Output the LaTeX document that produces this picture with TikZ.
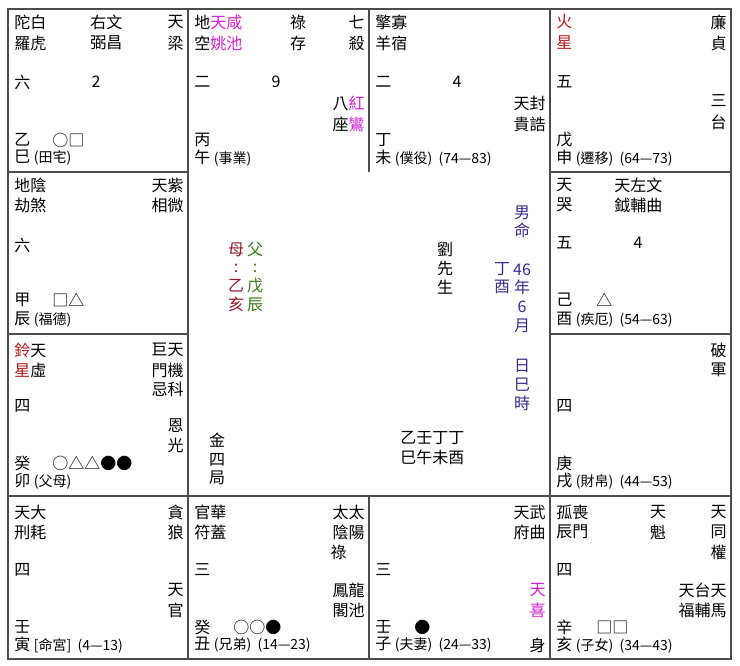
\documentclass[tikz,border=0pt]{standalone}
\usepackage{fontspec}
\setmainfont{Noto Sans CJK TC}
\definecolor{mag}{HTML}{D020D0}
\definecolor{dred}{HTML}{B01818}
\definecolor{mred}{HTML}{8B1A2A}
\definecolor{dgrn}{HTML}{3A7A1A}
\definecolor{navy}{HTML}{3A2A8A}
\begin{document}
\begin{tikzpicture}[x=0.75pt,y=-0.75pt,
 t/.style={inner sep=0pt,font=\fontsize{12}{14}\selectfont},
 L/.style={t,anchor=west},R/.style={t,anchor=east},C/.style={t,anchor=center},
 grid/.style={draw=black!70,line width=0.9pt}]
\useasboundingbox (0,0) rectangle (740,665);
\draw[grid] (8,9) rectangle (731,659);
\draw[grid] (188,9) -- (188,659);
\draw[grid] (550,9) -- (550,659);
\draw[grid] (369,9) -- (369,172);
\draw[grid] (369,496) -- (369,659);
\draw[grid] (8,172) -- (188,172);
\draw[grid] (550,172) -- (731,172);
\draw[grid] (8,334) -- (188,334);
\draw[grid] (550,334) -- (731,334);
\draw[grid] (8,496) -- (731,496);
% cell 巳
\node[L] (a1) at (14,22) {陀白};
\node[L] (a2) at (14,43) {羅虎};
\node[L] (a3) at (90,22) {右文};
\node[L] (a4) at (90,43) {弼昌};
\node[R] (a5) at (184,22) {天};
\node[R] (a6) at (184,43) {梁};
\node[L] (a7) at (14,82) {六};
\node[C] (a8) at (96,82) {2};
\node[L] (a9) at (14,140) {乙};
\node[L] (a10) at (52,140) {○□};
\node[L] (a11) at (14,158) {巳 {\fontsize{10.5}{12}\selectfont(田宅)}};
% cell 午
\node[L] (b1) at (194,22) {地\textcolor{mag}{天咸}};
\node[L] (b2) at (194,43) {空\textcolor{mag}{姚池}};
\node[C] (b3) at (298,22) {祿};
\node[C] (b4) at (298,43) {存};
\node[R] (b5) at (365,22) {七};
\node[R] (b6) at (365,43) {殺};
\node[L] (b7) at (194,82) {二};
\node[C] (b8) at (276,82) {9};
\node[R] (b9) at (365,103) {八\textcolor{mag}{紅}};
\node[R] (b10) at (365,124) {座\textcolor{mag}{鸞}};
\node[L] (b11) at (194,140) {丙};
\node[L] (b12) at (194,158) {午 {\fontsize{10.5}{12}\selectfont(事業)}};
% cell 未
\node[L] (c1) at (375,22) {擎寡};
\node[L] (c2) at (375,43) {羊宿};
\node[L] (c3) at (375,82) {二};
\node[C] (c4) at (457,82) {4};
\node[R] (c5) at (546,103) {天封};
\node[R] (c6) at (546,124) {貴誥};
\node[L] (c7) at (375,140) {丁};
\node[L] (c8) at (375,158) {未 {\fontsize{10.5}{12}\selectfont(僕役)\ \ (74—83)}};
% cell 申
\node[L] (d1) at (556,22) {\textcolor{dred}{火}};
\node[L] (d2) at (556,43) {\textcolor{dred}{星}};
\node[R] (d3) at (727,22) {廉};
\node[R] (d4) at (727,43) {貞};
\node[L] (d5) at (556,82) {五};
\node[R] (d6) at (727,101) {三};
\node[R] (d7) at (727,122) {台};
\node[L] (d8) at (556,140) {戊};
\node[L] (d9) at (556,158) {申 {\fontsize{10.5}{12}\selectfont(遷移)\ \ (64—73)}};
% cell 辰
\node[L] (e1) at (14,185) {地陰};
\node[L] (e2) at (14,205) {劫煞};
\node[R] (e3) at (184,185) {天紫};
\node[R] (e4) at (184,205) {相微};
\node[L] (e5) at (14,245) {六};
\node[L] (e6) at (14,300) {甲};
\node[L] (e7) at (52,300) {□△};
\node[L] (e8) at (14,320) {辰 {\fontsize{10.5}{12}\selectfont(福德)}};
% cell 酉
\node[L] (f1) at (556,185) {天};
\node[L] (f2) at (556,205) {哭};
\node[L] (f3) at (614,185) {天左文};
\node[L] (f4) at (614,205) {鉞輔曲};
\node[L] (f5) at (556,243) {五};
\node[C] (f6) at (638,243) {4};
\node[L] (f7) at (556,300) {己};
\node[L] (f8) at (596,300) {△};
\node[L] (f9) at (556,320) {酉 {\fontsize{10.5}{12}\selectfont(疾厄)\ \ (54—63)}};
% cell 卯
\node[L] (g1) at (14,350) {\textcolor{dred}{鈴}天};
\node[L] (g2) at (14,370) {\textcolor{dred}{星}虛};
\node[R] (g3) at (184,350) {巨天};
\node[R] (g4) at (184,370) {門機};
\node[R] (g5) at (184,389) {忌科};
\node[L] (g6) at (14,406) {四};
\node[R] (g7) at (184,426) {恩};
\node[R] (g8) at (184,445) {光};
\node[L] (g9) at (14,463) {癸};
\node[L] (g10) at (52,463) {○△△●●};
\node[L] (g11) at (14,481) {卯 {\fontsize{10.5}{12}\selectfont(父母)}};
% cell 戌
\node[R] (h1) at (727,350) {破};
\node[R] (h2) at (727,370) {軍};
\node[L] (h3) at (556,406) {四};
\node[L] (h4) at (556,463) {庚};
\node[L] (h5) at (556,481) {戌 {\fontsize{10.5}{12}\selectfont(財帛)\ \ (44—53)}};
% cell 寅
\node[L] (i1) at (14,512) {天大};
\node[L] (i2) at (14,532) {刑耗};
\node[R] (i3) at (184,512) {貪};
\node[R] (i4) at (184,532) {狼};
\node[L] (i5) at (14,570) {四};
\node[R] (i6) at (184,590) {天};
\node[R] (i7) at (184,610) {官};
\node[L] (i8) at (14,627) {壬};
\node[L] (i9) at (14,645) {寅 {\fontsize{10.5}{12}\selectfont[命宮]\ \ (4—13)}};
% cell 丑
\node[L] (j1) at (194,512) {官華};
\node[L] (j2) at (194,532) {符蓋};
\node[R] (j3) at (365,512) {太太};
\node[R] (j4) at (365,532) {陰陽};
\node[R] (j5) at (347,552) {祿};
\node[L] (j6) at (194,570) {三};
\node[R] (j7) at (365,590) {鳳龍};
\node[R] (j8) at (365,610) {閣池};
\node[L] (j9) at (194,627) {癸};
\node[L] (j10) at (233,627) {○○●};
\node[L] (j11) at (194,645) {丑 {\fontsize{10.5}{12}\selectfont(兄弟)\ \ (14—23)}};
% cell 子
\node[R] (k1) at (546,512) {天武};
\node[R] (k2) at (546,532) {府曲};
\node[L] (k3) at (375,570) {三};
\node[R] (k4) at (546,590) {\textcolor{mag}{天}};
\node[R] (k5) at (546,610) {\textcolor{mag}{喜}};
\node[L] (k6) at (375,627) {壬};
\node[L] (k7) at (414,627) {●};
\node[L] (k8) at (375,645) {子 {\fontsize{10.5}{12}\selectfont(夫妻)\ \ (24—33)}};
\node[R] (k9) at (546,645) {身};
% cell 亥
\node[L] (l1) at (556,512) {孤喪};
\node[L] (l2) at (556,532) {辰門};
\node[C] (l3) at (658,512) {天};
\node[C] (l4) at (658,532) {魁};
\node[R] (l5) at (727,512) {天};
\node[R] (l6) at (727,532) {同};
\node[R] (l7) at (727,552) {權};
\node[L] (l8) at (556,570) {四};
\node[R] (l9) at (727,590) {天台天};
\node[R] (l10) at (727,610) {福輔馬};
\node[L] (l11) at (556,627) {辛};
\node[L] (l12) at (596,627) {□□};
\node[L] (l13) at (556,645) {亥 {\fontsize{10.5}{12}\selectfont(子女)\ \ (34—43)}};
% center
\node[C,text=mred,align=center] (m1) at (236,277) {母\\[-1pt]:\\乙\\亥};
\node[C,text=dgrn,align=center] (m2) at (255,277) {父\\[-1pt]:\\戊\\辰};
\node[C,align=center] (m3) at (445,268) {劉\\先\\生};
\node[C,text=navy,align=center] (m4) at (522,222) {男\\命};
\node[C,text=navy,align=center] (m5) at (502,278) {丁\\酉};
\node[C,text=navy,align=center] (m6) at (522,298) {46\\年\\6\\月};
\node[C,text=navy,align=center] (m7) at (522,385) {日\\巳\\時};
\node[L] (m8) at (400,438) {乙壬丁丁};
\node[L] (m9) at (400,457) {巳午未酉};
\node[C,align=center] (m10) at (217,459) {金\\四\\局};
\end{tikzpicture}
\end{document}
